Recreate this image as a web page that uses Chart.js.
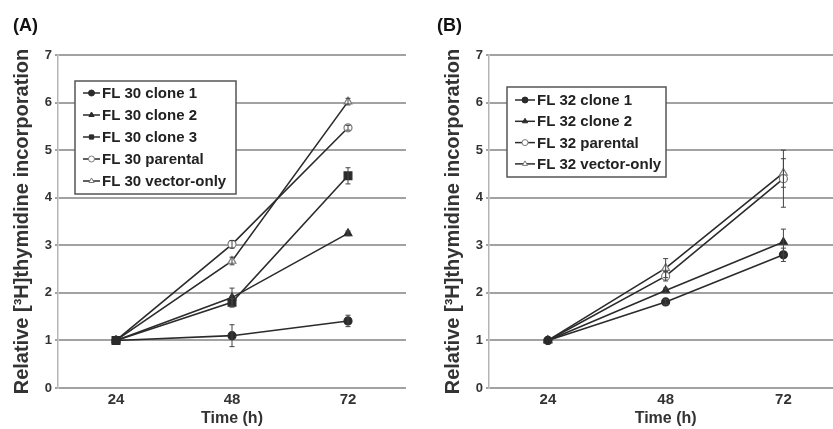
<!DOCTYPE html>
<html>
<head>
<meta charset="utf-8">
<script src="https://cdn.jsdelivr.net/npm/chart.js@4"></script>
<style>
body { margin: 0; width: 833px; height: 429px; overflow: hidden; background: #fff; position: relative; }
canvas { position: absolute; top: 0; }
#chartA { left: 0; }
#chartB { left: 431px; }
.panel { position: absolute; top: 15px; font: bold 18px 'Liberation Sans', Arial, sans-serif; color: #111; z-index: 2; }
</style>
</head>
<body>
<div class="panel" style="left:13px">(A)</div>
<div class="panel" style="left:437px">(B)</div>
<canvas id="chartA" width="416" height="429"></canvas>
<canvas id="chartB" width="417" height="429"></canvas>
<script>
// Time points (h)
const timeLabels = ['24', '48', '72'];

// Panel A - FL 30
const fl30Clone1 = [1, 1.1, 1.41];
const fl30Clone1Err = [0, 0.23, 0.12];
const fl30Clone2 = [1, 1.9, 3.25];
const fl30Clone2Err = [0, 0.2, 0.05];
const fl30Clone3 = [1, 1.8, 4.46];
const fl30Clone3Err = [0, 0.08, 0.17];
const fl30Parental = [1, 3.02, 5.47];
const fl30ParentalErr = [0, 0.08, 0.05];
const fl30Vector = [1, 2.67, 6.02];
const fl30VectorErr = [0, 0.08, 0.07];

// Panel B - FL 32
const fl32Clone1 = [1, 1.81, 2.8];
const fl32Clone1Err = [0, 0.05, 0.14];
const fl32Clone2 = [1, 2.05, 3.07];
const fl32Clone2Err = [0, 0.05, 0.27];
const fl32Parental = [1, 2.35, 4.4];
const fl32ParentalErr = [0, 0.1, 0.6];
const fl32Vector = [1, 2.52, 4.52];
const fl32VectorErr = [0, 0.2, 0.3];

const FONT = "'Liberation Sans', Arial, sans-serif";
Chart.defaults.font.family = FONT;

const lineCol = '#2b2b2b';
const openCol = '#7a7a7a';

function series(label, data, errors, style) {
    return Object.assign({
        label: label,
        data: data,
        errors: errors,
        borderColor: lineCol,
        borderWidth: 1.6,
        tension: 0,
        pointBorderWidth: 1.2,
        pointBorderColor: lineCol,
        pointBackgroundColor: lineCol
    }, style);
}

const filledCircle = { pointStyle: 'circle', pointRadius: 4 };
const filledTri = { pointStyle: 'triangle', pointRadius: 4.5 };
const filledSquare = { pointStyle: 'rect', pointRadius: 5.5 };
const openCircle = { pointStyle: 'circle', pointRadius: 4, pointBackgroundColor: '#fff', pointBorderColor: openCol };
const openTri = { pointStyle: 'triangle', pointRadius: 4.5, pointBackgroundColor: '#fff', pointBorderColor: openCol };

// error bars drawn from dataset.errors
const errorBars = {
    id: 'errorBars',
    afterDatasetsDraw(chart) {
        const ctx = chart.ctx;
        const y = chart.scales.y;
        ctx.save();
        ctx.strokeStyle = '#444';
        ctx.lineWidth = 1;
        chart.data.datasets.forEach((ds, i) => {
            const meta = chart.getDatasetMeta(i);
            meta.data.forEach((pt, j) => {
                const e = ds.errors[j];
                if (!e) return;
                const top = y.getPixelForValue(ds.data[j] + e);
                const bot = y.getPixelForValue(ds.data[j] - e);
                ctx.beginPath();
                ctx.moveTo(pt.x, top); ctx.lineTo(pt.x, bot);
                ctx.moveTo(pt.x - 2.5, top); ctx.lineTo(pt.x + 2.5, top);
                ctx.moveTo(pt.x - 2.5, bot); ctx.lineTo(pt.x + 2.5, bot);
                ctx.stroke();
            });
        });
        ctx.restore();
    }
};

// boxed legend inside the plot
const boxLegend = {
    id: 'boxLegend',
    beforeDatasetsDraw(chart, args, o) {
        const ctx = chart.ctx;
        ctx.save();
        ctx.fillStyle = '#fff';
        ctx.fillRect(o.x, o.y, o.w, o.h);
        ctx.strokeStyle = '#555';
        ctx.lineWidth = 1.5;
        ctx.strokeRect(o.x, o.y, o.w, o.h);
        ctx.font = 'bold 15px ' + FONT;
        ctx.textBaseline = 'middle';
        chart.data.datasets.forEach((ds, i) => {
            const cy = o.y + o.first + i * o.rowH;
            const x0 = o.x + 8, x1 = o.textX - 2;
            ctx.strokeStyle = lineCol;
            ctx.lineWidth = 1.5;
            ctx.beginPath(); ctx.moveTo(x0, cy); ctx.lineTo(x1, cy); ctx.stroke();
            ctx.fillStyle = ds.pointBackgroundColor;
            ctx.strokeStyle = ds.pointBorderColor;
            ctx.lineWidth = 1;
            Chart.helpers.drawPoint(ctx, { pointStyle: ds.pointStyle, radius: 3, borderWidth: 1 }, (x0 + x1) / 2, cy);
            ctx.fillStyle = '#222';
            ctx.fillText(ds.label, o.textX, cy + 1);
        });
        ctx.restore();
    }
};

function makeChart(id, datasets, legendPos, padRight) {
    return new Chart(document.getElementById(id), {
        type: 'line',
        data: { labels: timeLabels, datasets: datasets },
        options: {
            responsive: false,
            animation: false,
            layout: { padding: { top: 55, right: padRight, left: 0, bottom: 0 } },
            plugins: {
                legend: { display: false },
                tooltip: { enabled: false },
                boxLegend: legendPos
            },
            scales: {
                x: {
                    offset: true,
                    grid: { display: false, drawTicks: false },
                    border: { display: false },
                    ticks: { color: '#333', font: { size: 15, weight: 'bold' }, padding: 3 },
                    title: { display: true, text: 'Time (h)', color: '#333', font: { size: 16, weight: 'bold' }, padding: { top: 0, bottom: 1 } },
                    afterFit(s) { s.height = 41; }
                },
                y: {
                    min: 0,
                    max: 7,
                    ticks: { stepSize: 1, color: '#333', font: { size: 13, weight: 'bold' }, padding: 3 },
                    grid: { color: '#a2a2a2', lineWidth: 2, tickLength: 3 },
                    border: { color: '#b5b5b5', width: 1.5 },
                    title: { display: true, text: 'Relative [³H]thymidine incorporation', color: '#333', font: { size: 20, weight: 'bold' }, padding: { top: 10, bottom: 0 } },
                    afterFit(s) { s.width = 58; }
                }
            }
        },
        plugins: [boxLegend, errorBars]
    });
}

makeChart('chartA', [
    series('FL 30 clone 1', fl30Clone1, fl30Clone1Err, filledCircle),
    series('FL 30 clone 2', fl30Clone2, fl30Clone2Err, filledTri),
    series('FL 30 clone 3', fl30Clone3, fl30Clone3Err, filledSquare),
    series('FL 30 parental', fl30Parental, fl30ParentalErr, openCircle),
    series('FL 30 vector-only', fl30Vector, fl30VectorErr, openTri)
], { x: 75, y: 81, w: 161, h: 113, first: 12, rowH: 22, textX: 102 }, 10);

makeChart('chartB', [
    series('FL 32 clone 1', fl32Clone1, fl32Clone1Err, filledCircle),
    series('FL 32 clone 2', fl32Clone2, fl32Clone2Err, filledTri),
    series('FL 32 parental', fl32Parental, fl32ParentalErr, openCircle),
    series('FL 32 vector-only', fl32Vector, fl32VectorErr, openTri)
], { x: 76, y: 87, w: 159, h: 90, first: 13, rowH: 21.3, textX: 106 }, 0);
</script>
</body>
</html>
